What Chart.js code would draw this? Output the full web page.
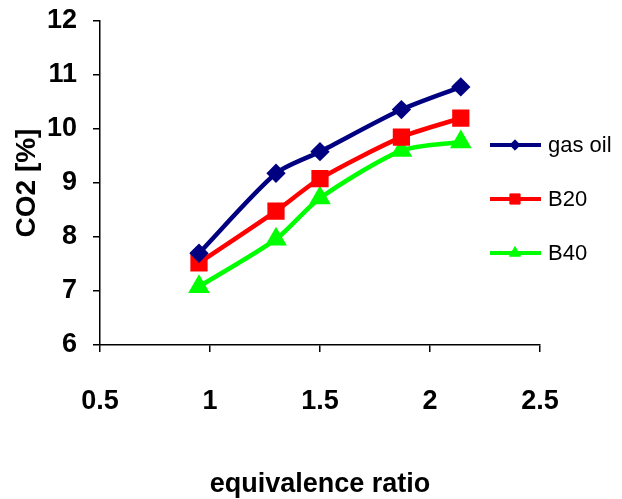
<!DOCTYPE html>
<html>
<head>
<meta charset="utf-8">
<script src="https://cdn.jsdelivr.net/npm/chart.js@4/dist/chart.umd.min.js"></script>
<style>
  html, body { margin: 0; padding: 0; background: #fff; }
  #wrap { width: 622px; height: 499px; position: relative; }
</style>
</head>
<body>
<div id="wrap"><canvas id="co2Chart"></canvas></div>
<script>
const ratio = [0.95, 1.3, 1.5, 1.87, 2.14];
const gasOil = [7.7, 9.18, 9.58, 10.36, 10.78];
const b20 = [7.52, 8.48, 9.08, 9.85, 10.2];
const b40 = [7.08, 7.96, 8.72, 9.6, 9.76];
const seriesNames = ["gas oil", "B20", "B40"];

const sans = "'Liberation Sans', Arial, sans-serif";

function pts(vals) {
    return vals.map((v, i) => ({ x: ratio[i], y: v }));
}

const GasOil = {
    label: seriesNames[0],
    data: pts(gasOil),
    borderColor: '#000080',
    backgroundColor: '#000080',
    borderWidth: 4.5,
    pointStyle: 'rectRot',
    pointRadius: 6.5,
    tension: 0.25
};
const B20 = {
    label: seriesNames[1],
    data: pts(b20),
    borderColor: '#ff0000',
    backgroundColor: '#ff0000',
    borderWidth: 4.5,
    pointStyle: 'rect',
    pointRadius: 9,
    tension: 0.25
};
const B40 = {
    label: seriesNames[2],
    data: pts(b40),
    borderColor: '#00ff00',
    backgroundColor: '#00ff00',
    borderWidth: 4.5,
    pointStyle: 'triangle',
    pointRadius: 8,
    tension: 0.25
};

// legend drawn by hand so it can sit next to the lines like in the picture
const sideLegend = {
    id: 'sideLegend',
    afterDraw(chart) {
        const ctx = chart.ctx;
        const area = chart.chartArea;
        const x0 = area.right - 50;
        chart.data.datasets.forEach((ds, i) => {
            const y = area.top + 124 + i * 54;
            ctx.save();
            ctx.strokeStyle = ds.borderColor;
            ctx.lineWidth = 4;
            ctx.beginPath();
            ctx.moveTo(x0, y);
            ctx.lineTo(x0 + 51, y);
            ctx.stroke();
            ctx.fillStyle = ds.backgroundColor;
            ctx.strokeStyle = ds.borderColor;
            ctx.lineWidth = 1;
            Chart.helpers.drawPoint(ctx, { pointStyle: ds.pointStyle, radius: ds.pointRadius * 0.8, borderWidth: 1 }, x0 + 25, y);
            ctx.fillStyle = '#000';
            ctx.font = "22px " + sans;
            ctx.textBaseline = 'middle';
            ctx.textAlign = 'left';
            ctx.fillText(ds.label, x0 + 58, y + 1);
            ctx.restore();
        });
    }
};

const config = {
    type: 'line',
    data: { datasets: [GasOil, B20, B40] },
    options: {
        maintainAspectRatio: false,
        animation: false,
        layout: { padding: { left: 0, right: 82, top: 21, bottom: 0 } },
        plugins: {
            legend: false,
            tooltip: { enabled: false }
        },
        scales: {
            x: {
                type: 'linear',
                min: 0.5,
                max: 2.5,
                afterFit: (s) => { s.height = 154; },
                ticks: {
                    stepSize: 0.5,
                    padding: 33,
                    color: '#000',
                    callback: (v) => String(v),
                    font: { family: sans, size: 27, weight: 'bold' }
                },
                grid: { drawOnChartArea: false, tickLength: 7, color: '#000', lineWidth: 1.5 },
                border: { color: '#000', width: 1.5 },
                title: {
                    display: true,
                    text: 'equivalence ratio',
                    color: '#000',
                    padding: { top: 0, bottom: 0 },
                    font: { family: sans, size: 27, weight: 'bold', lineHeight: 1.05 }
                }
            },
            y: {
                min: 6,
                max: 12,
                afterFit: (s) => { s.width = 100; s.paddingTop = 0; s.paddingBottom = 0; },
                ticks: {
                    stepSize: 1,
                    padding: 16,
                    color: '#000',
                    callback: (v) => String(v),
                    font: { family: sans, size: 27, weight: 'bold' }
                },
                grid: { drawOnChartArea: false, tickLength: 7, color: '#000', lineWidth: 1.5 },
                border: { color: '#000', width: 1.5 },
                title: {
                    display: true,
                    text: 'CO2 [%]',
                    color: '#000',
                    padding: { top: 10, bottom: 0 },
                    font: { family: sans, size: 28, weight: 'bold' }
                }
            }
        }
    },
    plugins: [sideLegend]
};

const co2Chart = new Chart(document.getElementById("co2Chart"), config);
</script>
</body>
</html>
